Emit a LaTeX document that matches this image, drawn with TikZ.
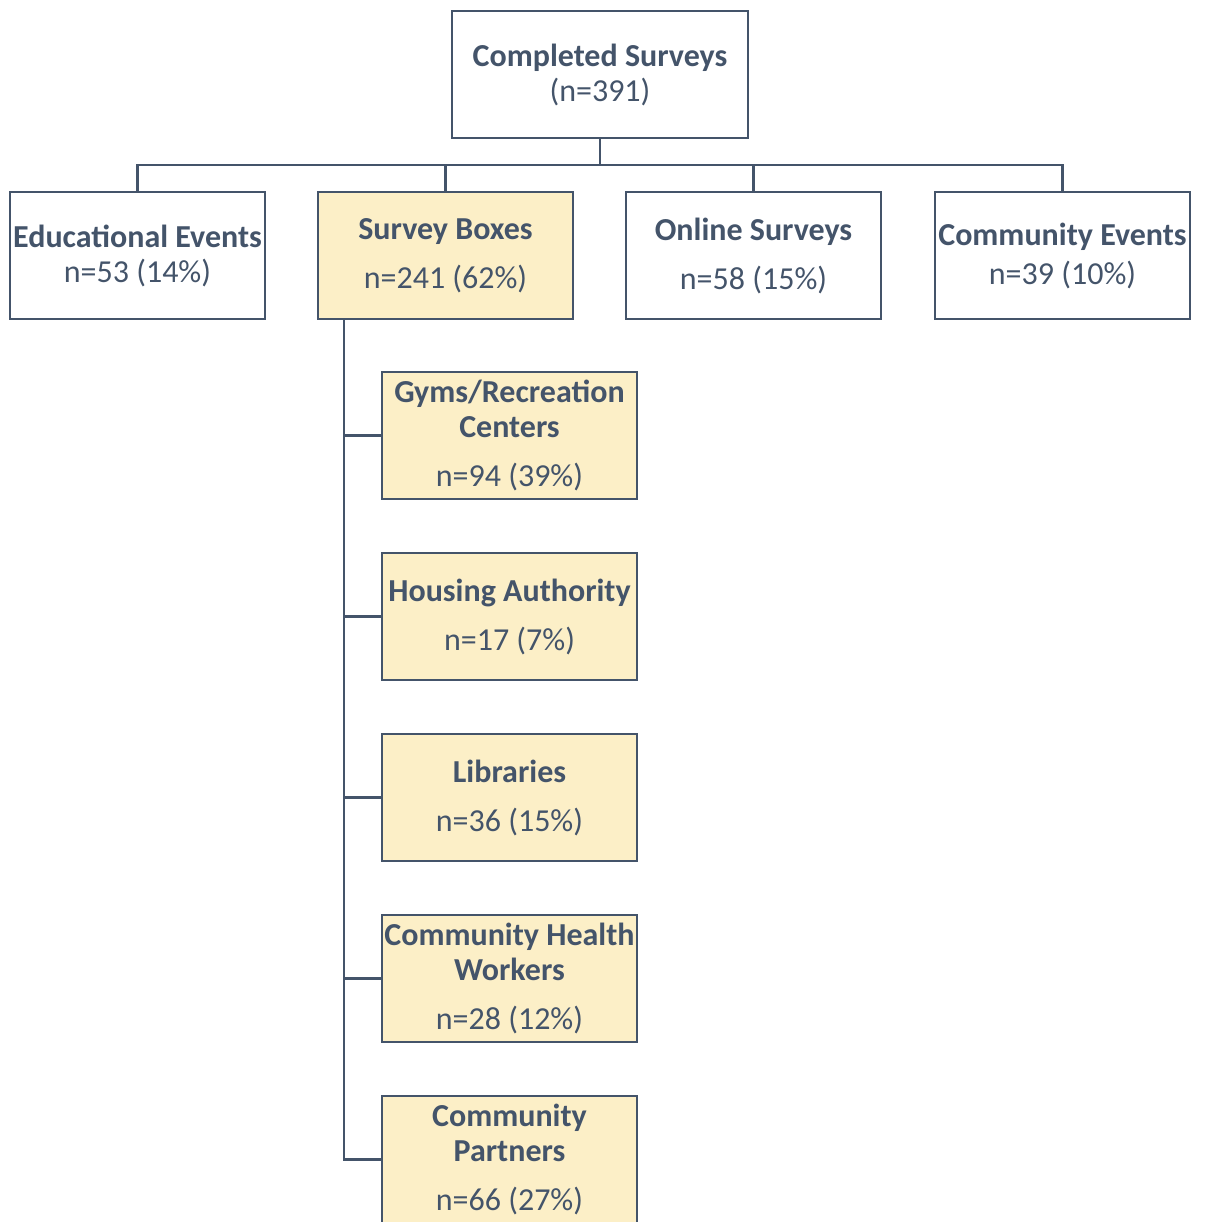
\documentclass[tikz,border=0pt]{standalone}
\usepackage{fontspec}
\setmainfont{Carlito}
\definecolor{dk}{HTML}{44546A}
\definecolor{cr}{HTML}{FCEFC7}
\begin{document}
\begin{tikzpicture}[x=1pt,y=-1pt,
  box/.style={draw=dk, line width=2.6pt, minimum width=255pt, minimum height=127pt,
    inner sep=0pt, align=center, text=dk, font=\fontsize{32}{35}\selectfont},
  sub/.style={box, fill=cr},
  conn/.style={draw=dk, line width=2.6pt}]
\useasboundingbox (0,0) rectangle (1206,1222);
\begin{scope}
\clip (0,0) rectangle (1206,1222);
\node[box, minimum width=296pt] (top) at (600,74.5) {\textbf{Completed Surveys}\\(n=391)};
\node[box] (edu) at (137.5,255.5) {\textbf{Educational Events}\\n=53 (14\%)};
\node[sub] (sb) at (445.5,255.5) {\textbf{Survey Boxes}\\[14pt]n=241 (62\%)};
\node[box] (onl) at (753.5,255.5) {\textbf{Online Surveys}\\[14pt]n=58 (15\%)};
\node[box] (com) at (1062.5,255.5) {\textbf{Community Events}\\[4pt]n=39 (10\%)};
\node[sub] (gym) at (509.5,435.5) {\textbf{Gyms/Recreation}\\\textbf{Centers}\\[14pt]n=94 (39\%)};
\node[sub] (hou) at (509.5,616.5) {\textbf{Housing Authority}\\[14pt]n=17 (7\%)};
\node[sub] (lib) at (509.5,797.5) {\textbf{Libraries}\\[14pt]n=36 (15\%)};
\node[sub] (chw) at (509.5,978.5) {\textbf{Community Health}\\\textbf{Workers}\\[14pt]n=28 (12\%)};
\node[sub] (cp) at (509.5,1159.5) {\textbf{Community}\\\textbf{Partners}\\[14pt]n=66 (27\%)};
\end{scope}
\coordinate (bus) at (600,165);
\coordinate (spine) at (344,319);
\draw[conn] (top.south) -- (bus);
\draw[conn] (edu.north) |- (bus) -| (com.north);
\draw[conn] (sb.north) -- (sb.north |- bus);
\draw[conn] (onl.north) -- (onl.north |- bus);
\draw[conn] (spine) |- (cp.west);
\foreach \n in {gym,hou,lib,chw} \draw[conn] (\n.west) -- (\n.west -| spine);
\end{tikzpicture}
\end{document}
